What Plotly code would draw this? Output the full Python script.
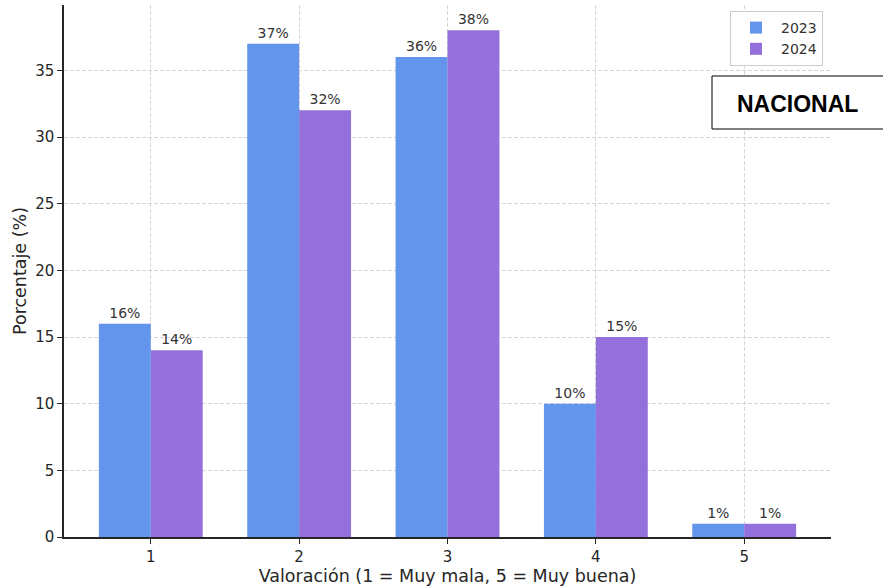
import plotly.graph_objects as go

categories = [1, 2, 3, 4, 5]
values_2023 = [16, 37, 36, 10, 1]
values_2024 = [14, 32, 38, 15, 1]
series_names = ["2023", "2024"]
y_ticks = [0, 5, 10, 15, 20, 25, 30, 35]

W, H = 883, 586
L, R, T, B = 64, 52, 5, 49
pw, ph = W - L - R, H - T - B

def px_x(x):
    return (x - L) / pw

def px_y(y):
    return (H - B - y) / ph

fig = go.Figure()
for name, vals, col in [(series_names[0], values_2023, "#6495ED"),
                        (series_names[1], values_2024, "#9370DB")]:
    fig.add_trace(go.Bar(
        x=categories, y=vals, name=name,
        marker=dict(color=col, line=dict(width=0)),
        text=[f"{v}%" for v in vals], textposition="outside",
        textfont=dict(family="DejaVu Sans", size=14, color="#333333"),
        cliponaxis=False,
    ))

grid = dict(showgrid=True, gridcolor="#d6d6d6", griddash="4px,2px", gridwidth=1)
fig.update_layout(
    width=W, height=H,
    margin=dict(l=L, r=R, t=T, b=B),
    plot_bgcolor="white", paper_bgcolor="white",
    barmode="group", bargap=0.3, bargroupgap=0,
    font=dict(family="DejaVu Sans", size=15, color="#262626"),
    showlegend=True,
    legend=dict(x=px_x(823), y=px_y(11), xanchor="right", yanchor="top",
                bgcolor="white", bordercolor="#cccccc", borderwidth=1,
                font=dict(size=14, color="#333333"), tracegroupgap=0,
                itemwidth=40),
    xaxis=dict(range=[0.415, 5.585], tickvals=categories, ticktext=[str(c) for c in categories],
               showline=True, linecolor="#262626", linewidth=1.5,
               ticks="outside", ticklen=5, tickcolor="#262626", zeroline=False,
               title=dict(text="Valoración (1 = Muy mala, 5 = Muy buena)", standoff=4,
                          font=dict(size=17.5)),
               **grid),
    yaxis=dict(range=[0, 39.9], tickvals=y_ticks,
               showline=True, linecolor="#262626", linewidth=1.5,
               ticks="outside", ticklen=5, tickcolor="#262626", zeroline=False,
               title=dict(text="Porcentaje (%)", standoff=4, font=dict(size=17.5)),
               **grid),
    shapes=[dict(type="rect", xref="paper", yref="paper",
                 x0=px_x(712), x1=px_x(890), y0=px_y(129), y1=px_y(76),
                 line=dict(color="black", width=1), fillcolor="white", layer="above")],
    annotations=[dict(text="<b>NACIONAL</b>", xref="paper", yref="paper",
                      x=px_x(797.5), y=px_y(104), xanchor="center", yanchor="middle",
                      showarrow=False,
                      font=dict(family="Liberation Sans", size=23, color="black"))],
)
fig.write_html("out.html", config={"displayModeBar": False},
               post_script="document.body.style.margin='0';document.body.style.padding='0';")
